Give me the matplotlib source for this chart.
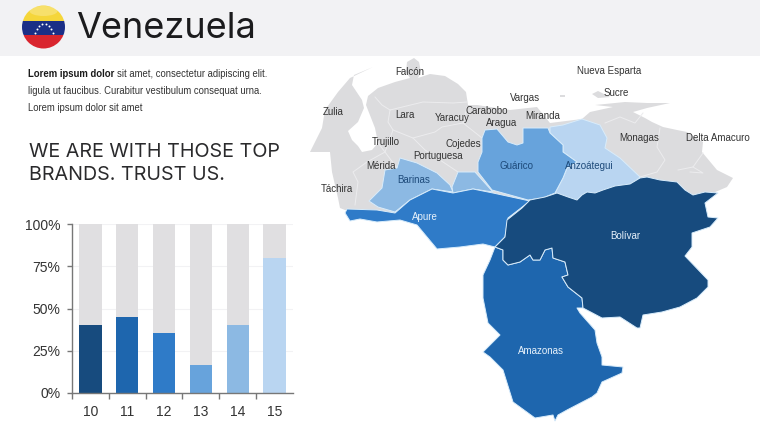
import matplotlib
matplotlib.use('Agg')
import matplotlib.pyplot as plt
from matplotlib.patches import Polygon, Rectangle, Circle, Ellipse

plt.rcParams['font.family'] = ['Liberation Sans', 'DejaVu Sans']

# ================== BAR DATA ==================
categories = ['10', '11', '12', '13', '14', '15']
shares = [40, 45, 35.5, 16.5, 40, 80]
bar_colors = ['#174b7e', '#1e66ae', '#2f7bc8', '#67a3dc', '#8cb9e3', '#b9d5f1']
y_ticks = [0, 25, 50, 75, 100]

# ================== MAP DATA (outline points, picture pixels) ==================
north_grey = [(310, 152), (322, 128), (325, 110), (338, 92), (350, 78), (373, 67), (354, 75), (352, 85),
              (362, 100), (364, 108), (358, 122), (348, 131), (352, 140), (358, 146), (362, 152), (372, 150),
              (378, 143), (375, 128), (366, 105), (368, 96), (378, 88), (395, 82), (410, 78), (406, 72),
              (407, 62), (414, 58), (419, 62), (421, 72), (418, 78), (430, 74), (445, 76), (458, 84),
              (466, 92), (468, 105), (477, 105), (510, 110), (537, 107), (550, 123), (582, 119), (590, 112),
              (613, 107), (595, 105), (625, 102), (647, 103), (670, 103), (647, 108), (633, 112), (645, 118),
              (652, 122), (663, 127), (677, 130), (687, 132), (703, 142), (702, 152), (717, 170), (733, 178),
              (727, 187), (713, 193), (690, 195), (650, 185), (540, 205), (400, 215), (345, 210), (340, 208),
              (338, 198), (332, 172), (330, 152)]
margarita = [(592, 94), (598, 91), (604, 94), (610, 97), (598, 98)]
coche = [(560, 95), (565, 95), (565, 97), (560, 97)]
anzoategui = [(550, 127), (563, 125), (582, 119), (600, 125), (607, 138), (605, 148), (620, 158), (640, 177),
              (627, 190), (590, 205), (545, 205), (555, 193), (563, 178), (567, 168), (577, 162), (563, 152),
              (563, 145), (550, 133)]
guarico = [(485, 130), (497, 129), (508, 142), (517, 145), (523, 143), (523, 128), (548, 128), (550, 133),
           (563, 145), (563, 152), (577, 162), (567, 168), (563, 178), (555, 193), (543, 198), (528, 200),
           (492, 190), (478, 172), (478, 162), (482, 152), (482, 138)]
barinas = [(400, 158), (417, 163), (437, 173), (450, 185), (453, 192), (432, 189), (410, 200), (395, 212),
           (378, 207), (369, 201), (382, 188), (385, 170), (397, 168)]
cojedes_south = [(452, 187), (458, 172), (475, 172), (493, 192), (473, 189), (453, 193)]
apure = [(347, 209), (377, 210), (395, 213), (410, 200), (432, 189), (453, 193), (473, 189), (493, 193),
         (530, 201), (508, 218), (505, 237), (495, 247), (483, 244), (460, 247), (437, 249), (417, 225),
         (400, 220), (377, 222), (360, 219), (350, 221), (345, 213)]
amazonas = [(495, 247), (503, 250), (503, 260), (508, 265), (520, 262), (530, 255), (533, 260), (540, 260),
            (545, 250), (552, 248), (553, 258), (565, 262), (568, 275), (562, 277), (568, 287), (582, 298),
            (583, 308), (577, 308), (580, 313), (595, 330), (597, 343), (602, 357), (602, 365), (623, 367),
            (622, 373), (602, 382), (597, 393), (592, 397), (567, 410), (558, 415), (555, 421), (553, 415),
            (535, 418), (513, 402), (503, 370), (490, 357), (483, 352), (500, 335), (488, 323), (483, 298),
            (483, 275), (490, 260)]
bolivar = [(530, 200), (545, 197), (557, 193), (568, 197), (577, 200), (582, 195), (587, 192), (595, 193),
           (603, 190), (615, 186), (630, 184), (640, 178), (647, 177), (660, 180), (677, 182), (685, 190),
           (693, 195), (705, 192), (718, 193), (705, 203), (708, 217), (718, 218), (710, 227), (692, 233),
           (692, 247), (685, 256), (708, 280), (708, 287), (697, 298), (680, 307), (662, 312), (643, 315),
           (640, 328), (637, 328), (620, 317), (602, 318), (583, 308), (582, 298), (568, 287), (562, 277),
           (568, 275), (565, 262), (553, 258), (552, 248), (545, 250), (540, 260), (533, 260), (530, 255),
           (520, 262), (508, 265), (503, 260), (503, 250), (495, 247), (505, 237), (507, 220), (522, 208)]
state_lines = [
    [(375, 97), (382, 105), (390, 110), (423, 102), (453, 103), (467, 102)],
    [(390, 110), (388, 122), (393, 130), (413, 138), (435, 132), (442, 127), (463, 123), (467, 107)],
    [(393, 130), (385, 152), (367, 162), (353, 172), (358, 182), (355, 205)],
    [(378, 143), (385, 152), (397, 168)],
    [(413, 138), (425, 150), (458, 172)],
    [(463, 123), (482, 138)],
    [(605, 123), (620, 117), (635, 123), (643, 113)],
    [(660, 128), (657, 147), (665, 160), (657, 172), (640, 177)],
    [(703, 153), (693, 167), (678, 170)],
    [(693, 167), (703, 173), (690, 172)],
]

# ================== LABELS ==================
dark_labels = [('Falcón', 410, 72), ('Nueva Esparta', 609, 71), ('Sucre', 616, 93), ('Vargas', 525, 98),
               ('Zulia', 333, 112), ('Lara', 405, 115), ('Yaracuy', 452, 118), ('Carabobo', 487, 111),
               ('Miranda', 543, 116), ('Aragua', 502, 123), ('Trujillo', 386, 142), ('Cojedes', 463, 144),
               ('Monagas', 639, 138), ('Delta Amacuro', 718, 138), ('Portuguesa', 438, 156),
               ('Mérida', 381, 166), ('Táchira', 337, 189)]
navy_labels = [('Guárico', 516, 166), ('Barinas', 414, 180), ('Anzoátegui', 589, 166)]
white_labels = [('Apure', 425, 217), ('Bolívar', 625, 236), ('Amazonas', 541, 351)]

fig = plt.figure(figsize=(7.6, 4.28), dpi=100, facecolor='white')

# full page layer, in picture pixels
page = fig.add_axes([0, 0, 1, 1])
page.set_xlim(0, 760)
page.set_ylim(428, 0)
page.axis('off')

# ================== HEADER ==================
page.add_patch(Rectangle((0, 0), 760, 55.5, color='#f2f2f4', lw=0))
badge = Circle((43.5, 27), 21.5, transform=page.transData)
for top, h, col in [(5, 16, '#f5d63a'), (21, 14, '#1b2f86'), (35, 15, '#d9252e')]:
    band = page.add_patch(Rectangle((20, top), 48, h, color=col, lw=0))
    band.set_clip_path(badge)
page.add_patch(Ellipse((43.5, 11), 28, 10, color='white', alpha=0.25, lw=0))
star_x = [35, 36.5, 39, 42, 45.5, 48.5, 51, 53]
star_y = [33, 29, 26, 24, 24, 26, 29, 33]
page.scatter(star_x, star_y, s=2, color='white', lw=0, zorder=3)
page.text(76, 38, 'Venezuela', family='Inter', fontsize=26, color='#1b1b1d', va='baseline')

# ================== BODY TEXT ==================
body = dict(fontsize=6.85, color='#333333', va='center')
page.text(28, 74, 'Lorem ipsum dolor', fontsize=6.85, color='#1a1a1a', va='center', fontweight='bold')
page.text(117, 74, 'sit amet, consectetur adipiscing elit.', **body)
page.text(28, 91, 'ligula ut faucibus. Curabitur vestibulum consequat urna.', **body)
page.text(28, 108, 'Lorem ipsum dolor sit amet', **body)
page.text(29, 157, 'WE ARE WITH THOSE TOP', family='Inter', fontsize=14.2, color='#2a2a2c', va='baseline')
page.text(29, 180, 'BRANDS. TRUST US.', family='Inter', fontsize=14.2, color='#2a2a2c', va='baseline')

# ================== MAP ==================
for pts in [north_grey, margarita, coche]:
    page.add_patch(Polygon(pts, closed=True, fc='#dcdcde', ec='none', zorder=1))
for pts in state_lines:
    xs, ys = zip(*pts)
    page.plot(xs, ys, color='#ececee', lw=0.7, zorder=1.5)
shapes = [(anzoategui, '#b9d5f1'), (guarico, '#67a3dc'), (barinas, '#8cb9e3'), (cojedes_south, '#8cb9e3'),
          (apure, '#2f7bc8'), (amazonas, '#1e66ae'), (bolivar, '#174b7e')]
for pts, col in shapes:
    page.add_patch(Polygon(pts, closed=True, fc=col, ec='#d8ecfb', lw=0.7, joinstyle='round', zorder=2))
for rows, col in [(dark_labels, '#333333'), (navy_labels, '#1d4a7a'), (white_labels, '#e8f2fb')]:
    for name, x, y in rows:
        page.text(x, y, name, fontsize=7.05, color=col, ha='center', va='center', zorder=4)

# ================== BAR CHART ==================
ax = fig.add_axes([72 / 760, 1 - 393 / 428, 221 / 760, 169 / 428])
ax.patch.set_alpha(0)
xs = list(range(len(categories)))
ax.set_xlim(-0.5, 5.5)
ax.set_ylim(0, 100)
ax.grid(axis='y', color='#f2f2f4', lw=0.8)
ax.set_axisbelow(True)
ax.bar(xs, [100] * len(xs), width=0.61, color='#e0dfe1', lw=0)
ax.bar(xs, shares, width=0.61, color=bar_colors, lw=0)
for s in ['top', 'right']:
    ax.spines[s].set_visible(False)
for s in ['left', 'bottom']:
    ax.spines[s].set_color('#777777')
    ax.spines[s].set_linewidth(1)
ax.set_yticks(y_ticks)
ax.set_yticklabels([f'{v}%' for v in y_ticks], fontsize=10, color='#333333')
ax.set_xticks(xs)
ax.set_xticklabels(categories, fontsize=10, color='#333333')
ax.set_xticks([i - 0.5 for i in range(len(categories))], minor=True)
ax.tick_params(axis='x', which='major', length=0, pad=9)
ax.tick_params(axis='x', which='minor', length=4, color='#777777', width=1)
ax.tick_params(axis='y', length=3.5, color='#777777', width=1, pad=5)

plt.savefig('out.png', dpi=100)
